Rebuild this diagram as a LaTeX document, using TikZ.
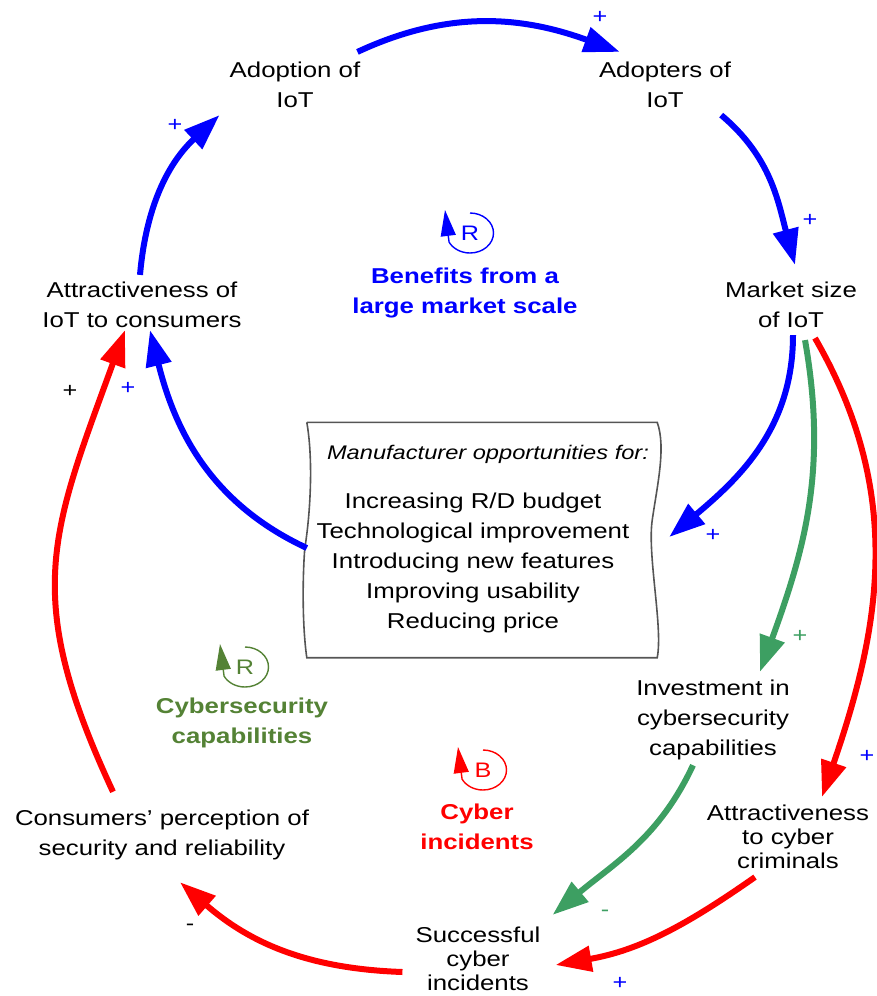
\documentclass[tikz,border=0pt]{standalone}
\usepackage{fontspec}
\setmainfont{Liberation Sans}[FakeStretch=1.2]
\usetikzlibrary{arrows.meta,positioning}

\definecolor{linkblue}{RGB}{0,0,255}
\definecolor{linkred}{RGB}{255,0,0}
\definecolor{linkgreen}{RGB}{61,159,98}
\definecolor{loopgreen}{RGB}{84,130,53}
\definecolor{boxgray}{RGB}{85,85,85}

\tikzset{
  >={Triangle[length=36pt,width=25pt]},
  var/.style={align=center, inner sep=2pt, font=\fontsize{21.5}{30}\selectfont},
  varclose/.style={var, font=\fontsize{21.5}{24}\selectfont},
  link/.style={->, line width=6pt},
  sign/.style={inner sep=0pt, font=\fontsize{21}{21}\selectfont},
  looptitle/.style={align=center, inner sep=2pt, font=\fontsize{21.5}{30}\selectfont\bfseries},
  loopletter/.style={inner sep=0pt, font=\fontsize{21}{21}\selectfont}
}

% loop marker: #1 name, #2 centre, #3 colour, #4 letter
\newcommand{\loopmark}[4]{%
  \node[loopletter, text=#3] (#1) at (#2) {#4};
  \draw[#3, line width=1.4pt, -{Triangle[length=26pt,width=15pt]}]
    ([yshift=20pt]#1.center) arc[start angle=90, end angle=-153, x radius=23.5pt, y radius=20pt]
    -- ([shift={(-25pt,23pt)}]#1.center);
}

\begin{document}
\begin{tikzpicture}[x=1pt, y=1pt]
\useasboundingbox (0,0) rectangle (876,-996);

% Variables
\node[var] (adopt) at (295,-85) {Adoption of\\IoT};
\node[var] (adopters) at (665,-85) {Adopters of\\IoT};
\node[var] (market) at (791,-305) {Market size\\of IoT};
\node[var] (attract) at (142,-305) {Attractiveness of\\IoT to consumers};
\node[var] (invest) at (713,-720) {Investment in\\cybersecurity\\capabilities};
\node[varclose] (attcrim) at (788,-837) {Attractiveness\\to cyber\\criminals};
\node[var] (consumers) at (162,-835) {Consumers’ perception of\\security and reliability};
\node[varclose] (success) at (478,-959) {Successful\\cyber\\incidents};

% Manufacturer box with wavy sides
\node[inner sep=0pt, minimum width=350pt, minimum height=235pt] (box) at (482,-540) {};
\node[inner sep=0pt, font=\fontsize{19.7}{24}\selectfont\itshape] (boxhead) at (488,-454)
  {Manufacturer opportunities for:};
\node[var, inner sep=0pt] (boxlist) at (473,-563)
  {Increasing R/D budget\\
   Technological improvement\\
   Introducing new features\\
   Improving usability\\
   Reducing price};
\draw[boxgray, line width=1.6pt]
  (box.north west) -- (box.north east)
  .. controls +(9,-25) and +(5,35) .. ([shift={(-5pt,-98pt)}]box.north east)
  .. controls +(-5,-35) and +(6,30) .. (box.south east)
  -- (box.south west)
  .. controls +(-5,35) and +(-2,-25) .. ([shift={(-2pt,-8pt)}]box.west)
  .. controls +(5,30) and +(7,-40) .. (box.north west);

% Loop names
\loopmark{lpB}{470,-233}{linkblue}{R}
\node[looptitle, text=linkblue] (benefits) at (465,-293) {Benefits from a\\large market scale};
\loopmark{lpG}{245,-667}{loopgreen}{R}
\node[looptitle, text=loopgreen] (capab) at (242,-723) {Cybersecurity\\capabilities};
\loopmark{lpR}{483,-770}{linkred}{B}
\node[looptitle, text=linkred] (incid) at (477,-827) {Cyber\\incidents};

% Blue loop
\draw[link, linkblue] ([shift={(-5pt,8pt)}]adopt.north east) to[out=25, in=160]
  ([shift={(23pt,8pt)}]adopters.north west);
\draw[link, linkblue] ([shift={(-12pt,-5pt)}]adopters.south east) to[out=-40, in=105]
  ([shift={(4pt,15pt)}]market.north);
\draw[link, linkblue] ([shift={(2pt,-5pt)}]market.south) to[out=-90, in=40]
  ([shift={(12pt,3pt)}]box.east);
\draw[link, linkblue] ([shift={(0pt,-8pt)}]box.west) to[out=155, in=-76]
  ([shift={(8pt,0pt)}]attract.south);
\draw[link, linkblue] ([shift={(-2pt,5pt)}]attract.north) to[out=85, in=223]
  ([shift={(-8pt,-5pt)}]adopt.south west);

% Green loop
\draw[link, linkgreen] ([shift={(14pt,-10pt)}]market.south) to[out=-80, in=70]
  ([shift={(47pt,6pt)}]invest.north);
\draw[link, linkgreen] ([shift={(-20pt,-3pt)}]invest.south) to[out=-115, in=40]
  ([shift={(10pt,10pt)}]success.north east);

% Red loop
\draw[link, linkred] ([shift={(24pt,-8pt)}]market.south) to[out=-60, in=71]
  ([shift={(34pt,6pt)}]attcrim.north);
\draw[link, linkred] ([shift={(-33pt,-6pt)}]attcrim.south) to[out=-145, in=10]
  ([shift={(13pt,-6pt)}]success.east);
\draw[link, linkred] ([shift={(-11pt,-13pt)}]success.west) to[out=178, in=-41]
  ([shift={(18pt,-20pt)}]consumers.south);
\draw[link, linkred] ([shift={(-49pt,16pt)}]consumers.north) to[out=115, in=250, looseness=1.2]
  ([shift={(-17pt,0pt)}]attract.south);

% Polarities
\foreach \nm/\x/\y/\col/\txt in {
    pa/600/-17/linkblue/+, pb/810/-220/linkblue/+, pc/713/-535/linkblue/+,
    pd/128/-388/linkblue/+, pe/175/-125/linkblue/+, pf/800/-636/linkgreen/+,
    pg/605/-913/linkgreen/-, ph/867/-756/linkblue/+, pi/620/-983/linkblue/+,
    pj/190/-927/black/-, pk/70/-391/black/+}
  \node[sign, text=\col] (\nm) at (\x,\y) {\txt};

\end{tikzpicture}
\end{document}
